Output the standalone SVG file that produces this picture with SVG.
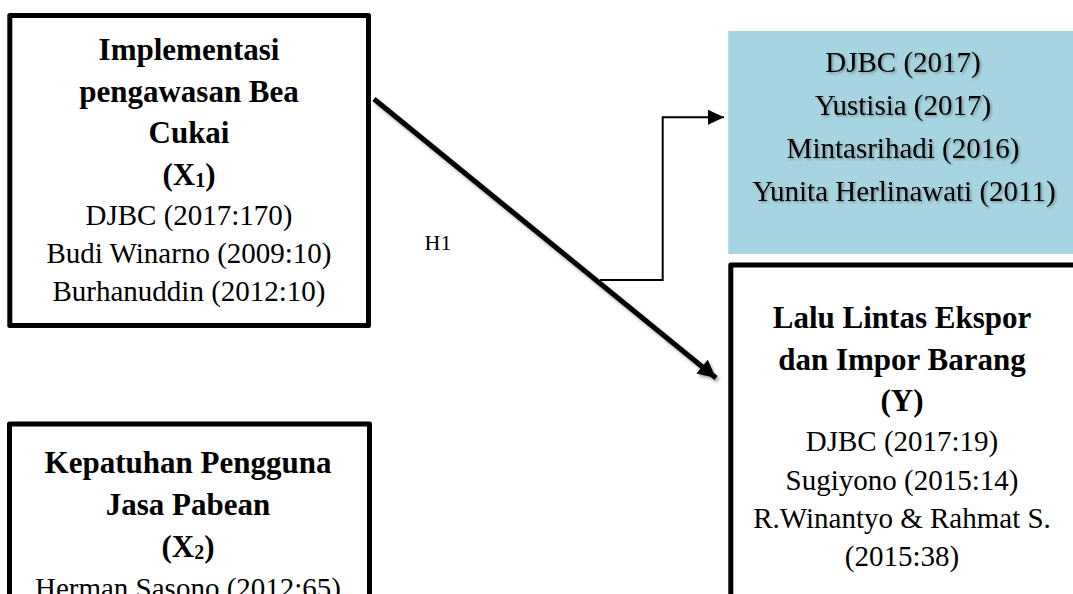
<svg xmlns="http://www.w3.org/2000/svg" width="1073" height="594" viewBox="0 0 1073 594">
<style>
text{font-family:"Liberation Serif","Times New Roman",serif;fill:#000;text-anchor:middle}
.b{font-weight:bold;font-size:31px}
.n{font-size:29px}
.box{fill:#fff;stroke:#000;stroke-width:5;stroke-linejoin:round}
.sub{font-size:20px}
</style>
<defs>
<filter id="sh" x="-10%" y="-10%" width="130%" height="130%">
<feDropShadow dx="2" dy="2.5" stdDeviation="1.5" flood-color="#000" flood-opacity="0.35"/>
</filter>
<filter id="tsh" x="-10%" y="-20%" width="130%" height="150%">
<feDropShadow dx="1.5" dy="1.5" stdDeviation="1.2" flood-color="#000" flood-opacity="0.3"/>
</filter>
<marker id="ah" markerUnits="userSpaceOnUse" markerWidth="22" markerHeight="22" viewBox="0 0 22 22" refX="20" refY="11" orient="auto">
<path d="M2,2 L20,11 L2,20 Z" fill="#000"/>
</marker>
<marker id="ah2" markerUnits="userSpaceOnUse" markerWidth="16" markerHeight="16" viewBox="0 0 16 16" refX="16" refY="8" orient="auto">
<path d="M0,0.5 L16,8 L0,15.5 Z" fill="#000"/>
</marker>
</defs>
<rect width="1073" height="594" fill="#fff"/>

<g id="node-x1">
<rect class="box" x="9.8" y="15.5" width="358.7" height="310"/>
<text class="b" x="189" y="60">Implementasi</text>
<text class="b" x="189" y="102">pengawasan Bea</text>
<text class="b" x="189" y="143">Cukai</text>
<text class="b" x="189" y="185">(X<tspan class="sub" dy="2">1</tspan><tspan dy="-2">)</tspan></text>
<text class="n" x="189" y="225">DJBC (2017:170)</text>
<text class="n" x="189" y="263">Budi Winarno (2009:10)</text>
<text class="n" x="189" y="301">Burhanuddin (2012:10)</text>
</g>

<g id="node-x2">
<rect class="box" x="9.5" y="424" width="360" height="220"/>
<text class="b" x="188" y="473">Kepatuhan Pengguna</text>
<text class="b" x="188" y="515">Jasa Pabean</text>
<text class="b" x="188" y="557">(X<tspan class="sub" dy="2">2</tspan><tspan dy="-2">)</tspan></text>
<text class="n" x="188" y="598">Herman Sasono (2012:65)</text>
</g>

<g id="node-refs">
<rect x="728.3" y="31" width="350" height="223" fill="#A6D4E1"/>
<g filter="url(#tsh)">
<text class="n" x="903" y="72">DJBC (2017)</text>
<text class="n" x="903" y="115">Yustisia (2017)</text>
<text class="n" x="903" y="158">Mintasrihadi (2016)</text>
<text class="n" x="904" y="201">Yunita Herlinawati (2011)</text>
</g>
</g>

<g id="node-y">
<rect class="box" x="730.8" y="265" width="400" height="400"/>
<text class="b" x="902" y="328">Lalu Lintas Ekspor</text>
<text class="b" x="902" y="370">dan Impor Barang</text>
<text class="b" x="902" y="411">(Y)</text>
<text class="n" x="902" y="451">DJBC (2017:19)</text>
<text class="n" x="902" y="490">Sugiyono (2015:14)</text>
<text class="n" x="902" y="528">R.Winantyo &amp; Rahmat S.</text>
<text class="n" x="902" y="566">(2015:38)</text>
</g>

<g id="connectors">
<line x1="374" y1="99" x2="716" y2="378" stroke="#000" stroke-width="5" marker-end="url(#ah)" filter="url(#sh)"/>
<polyline points="600,280 662.7,280 662.7,117.3 724,117.3" fill="none" stroke="#000" stroke-width="2" marker-end="url(#ah2)"/>
<text x="438" y="250" style="font-size:22px">H1</text>
</g>
</svg>
